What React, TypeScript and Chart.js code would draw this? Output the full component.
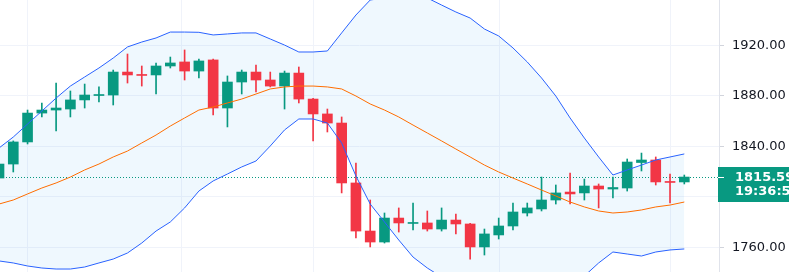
import React, { useEffect, useRef } from 'react';
import { Chart, registerables } from 'chart.js';

Chart.register(...registerables);

// OHLC candles (one per bar, oldest first)
const openP = [1814.8, 1825.9, 1843.4, 1866.3, 1868.7, 1869.5, 1876.7, 1880.2, 1880.6, 1898.8, 1896.5, 1896.5, 1903.6, 1906.8, 1899.6, 1908.4, 1870.3, 1890.9, 1898.8, 1892.5, 1887.7, 1898.0, 1877.4, 1865.6, 1858.4, 1810.9, 1772.8, 1764.1, 1783.1, 1778.8, 1779.2, 1774.4, 1781.5, 1778.4, 1760.2, 1769.7, 1776.8, 1787.1, 1790.3, 1797.4, 1803.7, 1803.0, 1808.5, 1806.1, 1806.9, 1827.1, 1829.1, 1811.7, 1811.7];
const highP = [1827.5, 1844.2, 1868.7, 1874.3, 1890.1, 1883.8, 1889.3, 1887.0, 1900.4, 1913.1, 1903.6, 1906.0, 1910.7, 1916.3, 1909.1, 1909.1, 1895.7, 1900.4, 1904.4, 1898.8, 1899.6, 1902.8, 1878.0, 1869.5, 1863.2, 1826.7, 1797.4, 1787.1, 1791.1, 1795.0, 1788.7, 1791.1, 1786.3, 1779.0, 1774.4, 1783.1, 1795.0, 1795.0, 1815.6, 1809.3, 1818.8, 1814.0, 1810.1, 1815.6, 1829.9, 1834.6, 1831.5, 1818.0, 1817.2];
const lowP = [1813.3, 1819.6, 1841.8, 1863.2, 1852.1, 1863.2, 1870.3, 1875.1, 1872.7, 1890.1, 1887.7, 1881.4, 1902.0, 1892.5, 1894.1, 1864.8, 1855.3, 1881.4, 1883.0, 1887.0, 1869.5, 1874.3, 1844.2, 1851.3, 1803.0, 1767.3, 1760.2, 1763.3, 1772.0, 1773.6, 1772.8, 1772.8, 1770.5, 1750.6, 1753.8, 1766.5, 1773.6, 1784.7, 1788.7, 1794.2, 1794.2, 1797.4, 1791.1, 1799.0, 1804.5, 1820.4, 1809.3, 1795.0, 1810.1];
const closeP = [1825.9, 1843.4, 1866.3, 1868.7, 1870.3, 1876.7, 1880.6, 1880.6, 1898.8, 1896.5, 1896.1, 1903.6, 1906.0, 1899.6, 1907.6, 1870.3, 1890.9, 1898.8, 1892.5, 1887.7, 1898.0, 1877.4, 1865.6, 1858.4, 1810.9, 1772.8, 1764.1, 1783.1, 1779.2, 1779.2, 1774.4, 1781.5, 1778.4, 1760.2, 1770.5, 1776.8, 1787.9, 1791.1, 1797.4, 1803.0, 1802.2, 1808.5, 1806.1, 1807.3, 1827.5, 1829.1, 1811.7, 1811.3, 1815.59];

// Bollinger bands
const bbUpper = [1838.6, 1847.3, 1857.6, 1867.9, 1878.2, 1887.7, 1894.9, 1902.0, 1909.9, 1918.7, 1922.6, 1925.8, 1930.5, 1930.5, 1930.3, 1928.2, 1929.0, 1929.8, 1929.8, 1925.0, 1920.2, 1914.7, 1914.7, 1915.5, 1929.8, 1944.0, 1955.9, 1957.5, 1960.7, 1961.4, 1957.5, 1951.9, 1946.4, 1941.6, 1932.9, 1927.4, 1917.9, 1906.8, 1894.1, 1879.8, 1862.4, 1846.5, 1831.5, 1817.2, 1821.2, 1825.1, 1829.1, 1831.5, 1833.9];
const bbBasis = [1794.2, 1797.4, 1802.2, 1806.9, 1810.9, 1815.6, 1821.2, 1825.9, 1831.5, 1836.2, 1842.6, 1848.9, 1856.0, 1862.4, 1868.7, 1871.1, 1874.3, 1877.4, 1881.4, 1885.4, 1887.0, 1887.7, 1887.7, 1887.0, 1885.4, 1879.8, 1873.5, 1868.7, 1863.2, 1856.8, 1850.5, 1844.2, 1837.8, 1831.5, 1825.1, 1819.6, 1814.8, 1810.1, 1805.3, 1800.6, 1795.8, 1791.9, 1788.7, 1787.1, 1787.9, 1789.5, 1791.9, 1793.4, 1795.8];
const bbLower = [1749.1, 1747.5, 1745.1, 1743.5, 1742.7, 1742.7, 1744.3, 1747.5, 1750.6, 1755.4, 1763.3, 1772.8, 1780.0, 1791.1, 1804.5, 1812.5, 1818.0, 1823.6, 1828.3, 1840.2, 1852.9, 1861.6, 1861.6, 1858.4, 1842.6, 1816.4, 1794.2, 1780.0, 1765.7, 1752.2, 1743.5, 1736.4, 1729.2, 1721.3, 1717.4, 1711.8, 1711.8, 1713.4, 1716.6, 1721.3, 1729.2, 1737.2, 1747.5, 1756.2, 1754.6, 1753.0, 1756.2, 1757.8, 1758.6];

// Axis values
const priceTicks = [1760, 1800, 1840, 1880, 1920, 1960];
const timeGrid = [2, 12.8, 22, 35.05, 47];
const lastPrice = 1815.59;
const countdown = '19:36:5';

const UP = '#089981';
const DOWN = '#f23645';

export default function App() {
  const ref = useRef<HTMLCanvasElement | null>(null);

  useEffect(() => {
    document.body.style.margin = '0';
    const idx = openP.map((_, i) => i);
    const colors = idx.map((i) => (closeP[i] >= openP[i] ? UP : DOWN));

    const overlay = {
      id: 'overlay',
      beforeDatasetsDraw(chart: any) {
        const { ctx, chartArea } = chart;
        const y = Math.round(chart.scales.y.getPixelForValue(lastPrice)) + 0.5;
        ctx.save();
        ctx.strokeStyle = UP;
        ctx.lineWidth = 1;
        ctx.setLineDash([1, 2]);
        ctx.beginPath();
        ctx.moveTo(chartArea.left, y);
        ctx.lineTo(chartArea.right, y);
        ctx.stroke();
        ctx.restore();
      },
      afterDraw(chart: any) {
        const { ctx } = chart;
        const ys = chart.scales.y;
        const lastY = ys.getPixelForValue(lastPrice);
        ctx.save();
        ctx.font = '13px "DejaVu Sans"';
        ctx.fillStyle = '#131722';
        ctx.textBaseline = 'middle';
        ctx.textAlign = 'left';
        for (const v of priceTicks) {
          const py = ys.getPixelForValue(v);
          if (py > lastY - 22 && py < lastY + 34) continue;
          ctx.fillText(v.toFixed(2), ys.left + 13, py);
        }
        const top = Math.round(lastY) - 10;
        ctx.fillStyle = UP;
        ctx.fillRect(ys.left - 1, top, 80, 35);
        ctx.strokeStyle = '#ffffff';
        ctx.lineWidth = 1;
        ctx.beginPath();
        ctx.moveTo(ys.left - 1, Math.round(lastY) + 0.5);
        ctx.lineTo(ys.left + 5, Math.round(lastY) + 0.5);
        ctx.stroke();
        ctx.fillStyle = '#ffffff';
        ctx.font = 'bold 13px "DejaVu Sans"';
        ctx.fillText(lastPrice.toFixed(2), ys.left + 16, top + 11);
        ctx.fillText(countdown, ys.left + 16, top + 25);
        ctx.restore();
      },
    };

    const chart = new Chart(ref.current as HTMLCanvasElement, {
      type: 'bar',
      data: {
        datasets: [
          {
            type: 'line',
            label: 'Upper',
            data: idx.map((i) => ({ x: i, y: bbUpper[i] })),
            borderColor: '#2962ff',
            borderWidth: 1,
            pointRadius: 0,
            fill: '+1',
            backgroundColor: 'rgba(33,150,243,0.07)',
            order: 0,
          },
          {
            type: 'line',
            label: 'Lower',
            data: idx.map((i) => ({ x: i, y: bbLower[i] })),
            borderColor: '#2962ff',
            borderWidth: 1,
            pointRadius: 0,
            fill: false,
            order: 0,
          },
          {
            type: 'line',
            label: 'Basis',
            data: idx.map((i) => ({ x: i, y: bbBasis[i] })),
            borderColor: '#ff6d00',
            borderWidth: 1,
            pointRadius: 0,
            fill: false,
            order: 1,
          },
          {
            type: 'bar',
            label: 'Wick',
            data: idx.map((i) => ({ x: i, y: [lowP[i], highP[i]] })),
            backgroundColor: colors,
            barThickness: 1,
            grouped: false,
            order: 3,
          },
          {
            type: 'bar',
            label: 'Body',
            data: idx.map((i) => ({ x: i, y: [openP[i], closeP[i]] })),
            backgroundColor: colors,
            barThickness: 10,
            minBarLength: 1,
            grouped: false,
            order: 2,
          },
        ],
      } as any,
      options: {
        responsive: false,
        animation: false,
        layout: { padding: 0 },
        plugins: {
          legend: { display: false },
          tooltip: { enabled: false },
          filler: { drawTime: 'beforeDatasetsDraw' },
        } as any,
        scales: {
          x: {
            type: 'linear',
            offset: false,
            min: 0.07,
            max: 50.43,
            ticks: { display: false },
            grid: { color: '#f0f3fa', drawTicks: false, offset: false },
            border: { display: false },
            afterBuildTicks: (s: any) => {
              s.ticks = timeGrid.map((v) => ({ value: v }));
            },
            afterFit: (s: any) => {
              s.height = 0;
            },
          },
          y: {
            type: 'linear',
            position: 'right',
            offset: false,
            min: 1740.34,
            max: 1955.9,
            ticks: { display: false },
            grid: { color: '#f0f3fa', tickLength: 5, tickColor: '#d1d4dc' },
            border: { display: true, color: '#e0e3eb' },
            afterBuildTicks: (s: any) => {
              s.ticks = priceTicks.map((v) => ({ value: v }));
            },
            afterFit: (s: any) => {
              s.width = 70;
            },
          },
        } as any,
      },
      plugins: [overlay],
    });
    return () => chart.destroy();
  }, []);

  return (
    <div style={{ position: 'fixed', left: 0, top: 0, width: 789, height: 272 }}>
      <canvas ref={ref} width={789} height={272} style={{ display: 'block' }} />
    </div>
  );
}
